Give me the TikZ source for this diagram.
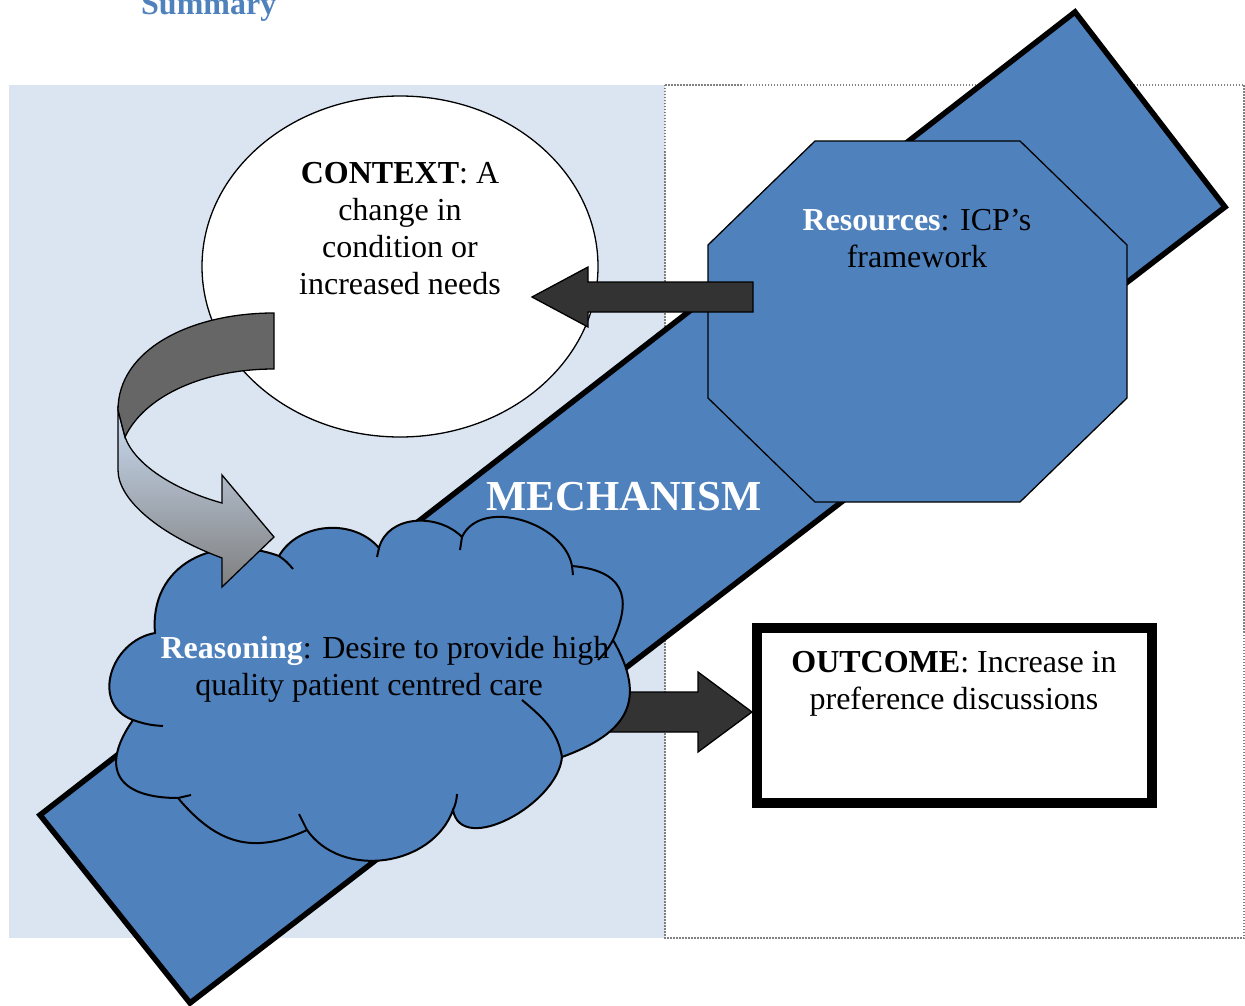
\documentclass[tikz,border=0pt]{standalone}
\usepackage{fontspec}
\setmainfont{Liberation Serif}
\definecolor{accent}{HTML}{4F81BD}
\definecolor{panel}{HTML}{DBE5F1}
\definecolor{arrowdark}{HTML}{333333}
\definecolor{ribbontop}{HTML}{666666}
\definecolor{ribbonlight}{HTML}{CADBF1}
\definecolor{ribbonmid}{HTML}{B2BFD4}
\definecolor{ribbongray}{HTML}{7F7F7F}
\newcommand\linesblock[1]{\begin{tabular}[t]{@{}c@{}}#1\end{tabular}}

\begin{document}
\begin{tikzpicture}[x=1pt,y=1pt,line join=miter,
  txt/.style={inner sep=0pt,anchor=base,font=\fontsize{32}{37}\selectfont},
  thinline/.style={draw=black,line width=1.3pt},
  mechband/.style={fill=accent,draw=black,line width=5.5pt},
  blockarrow/.style={fill=arrowdark,thinline},
  cloudshape/.style={fill=accent,draw=black,line width=2pt},
  cloudtail/.style={draw=black,line width=2pt},
  frameline/.style={draw=gray,line width=1.2pt,dash pattern=on 1.5pt off 1.5pt},
]
\useasboundingbox (0,0) rectangle (1245,-1006);

% heading
\node[inner sep=0pt,anchor=base west,font=\fontsize{32}{37}\selectfont\bfseries,text=accent] (title) at (141,-15) {Summary};

% shaded panel and dotted frame
\fill[panel] (9,-85) rectangle (665,-938);
\draw[frameline] (665,-85) rectangle (1244,-938);

% diagonal mechanism band
\path[mechband] (40,-815) -- (1075,-12) -- (1225,-207) -- (190,-1003) -- cycle;

% resources octagon
\path[fill=accent,thinline] (815,-141) -- (1020,-141) -- (1127,-245) -- (1127,-398)
  -- (1020,-502) -- (815,-502) -- (708,-398) -- (708,-245) -- cycle;

% context ellipse
\path[fill=white,thinline] (400,-266.5) ellipse [x radius=198,y radius=170.5];

% arrow from resources to context
\coordinate (la) at (753,-297);
\coordinate (lt) at (532,-297);
\path[blockarrow] ([yshift=15pt]la) -- ++(-165,0) -- ++(0,15) -- (lt) -- ([xshift=56pt,yshift=-30pt]lt)
  -- ++(0,15) -- ([yshift=-15pt]la) -- cycle;

% arrow from reasoning to outcome
\coordinate (ra) at (600,-712);
\coordinate (rt) at (752,-712);
\path[blockarrow] ([yshift=20pt]ra) -- ([xshift=-54pt,yshift=20pt]rt) -- ++(0,20) -- (rt)
  -- ([xshift=-54pt,yshift=-40pt]rt) -- ++(0,20) -- ([yshift=-20pt]ra) -- cycle;

% reasoning cloud
\coordinate (j1) at (155,-633);
\coordinate (j2) at (279,-556);
\coordinate (j3) at (379,-548);
\coordinate (j4) at (462,-537);
\coordinate (j5) at (572,-566);
\coordinate (j6) at (613,-640);
\coordinate (j7) at (562,-757);
\coordinate (j8) at (453,-810);
\coordinate (j9) at (307,-830);
\coordinate (j10) at (178,-798);
\coordinate (j11) at (133,-720);
\path[cloudshape] (j1)
  to[out=95,in=160,looseness=1.2] (j2)
  to[out=60,in=130,looseness=1.0] (j3)
  to[out=75,in=135,looseness=1.05] (j4)
  to[out=65,in=100,looseness=1.0] (j5)
  to[out=-5,in=65,looseness=1.5] (j6)
  to[out=-60,in=20,looseness=1.4] (j7)
  to[out=-95,in=-80,looseness=1.0] (j8)
  to[out=-110,in=-55,looseness=1.05] (j9)
  to[out=-155,in=-50,looseness=1.15] (j10)
  to[out=180,in=235,looseness=1.7] (j11)
  to[out=160,in=190,looseness=1.3] (j1) -- cycle;
\draw[cloudtail] (j2) to[bend left=8] (293,-569);
\draw[cloudtail] (j3) -- (377,-557);
\draw[cloudtail] (j4) -- (460,-550);
\draw[cloudtail] (j5) -- (573,-575);
\draw[cloudtail] (j6) to[bend left=8] (598,-660);
\draw[cloudtail] (j7) to[out=100,in=-40] (522,-700);
\draw[cloudtail] (j8) to[bend right=10] (457,-794);
\draw[cloudtail] (j9) -- (299,-814);
\draw[cloudtail] (j10) -- (191,-795);
\draw[cloudtail] (j11) to[bend right=8] (163,-726);

% curved ribbon arrow from context to reasoning
\shadedraw[top color=ribbonlight,middle color=ribbonmid,bottom color=ribbongray,thinline]
  (118,-410) -- (118,-470) .. controls (118,-500) and (160,-535) .. (222,-558)
  -- (222,-587) -- (274,-537) -- (222,-475) -- (222,-503)
  .. controls (175,-490) and (135,-465) .. (125,-437) -- cycle;
\path[fill=ribbontop,thinline]
  (274,-313) .. controls (190,-313) and (118,-350) .. (118,-410) -- (125,-437)
  .. controls (145,-395) and (205,-369) .. (274,-369) -- cycle;

% outcome box
\draw[line width=10pt,fill=white] (757,-628) rectangle (1152,-803);

% labels
\node[inner sep=0pt,anchor=base,font=\fontsize{42.7}{49}\selectfont\bfseries,text=white] (mech) at (624,-510) {MECHANISM};
\node[txt] (context) at (400,-183) {\linesblock{\textbf{CONTEXT}: A\\change in\\condition or\\increased needs}};
\node[txt] (resources) at (917,-230) {\linesblock{\textbf{\color{white}Resources}: ICP’s\\framework}};
\node[txt] (reasoning) at (385,-658) {\linesblock{\textbf{\color{white}Reasoning}: Desire to provide high\\quality patient centred care\kern32pt}};
\node[txt] (outcome) at (954,-672) {\linesblock{\textbf{OUTCOME}: Increase in\\preference discussions}};
\end{tikzpicture}
\end{document}
